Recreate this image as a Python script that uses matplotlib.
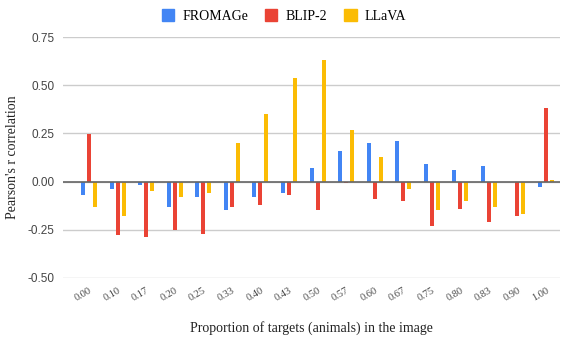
import numpy as np
import matplotlib
matplotlib.use('Agg')
import matplotlib.pyplot as plt
from matplotlib.patches import Patch

# Data
proportions = ['0.00', '0.10', '0.17', '0.20', '0.25', '0.33', '0.40', '0.43', '0.50',
               '0.57', '0.60', '0.67', '0.75', '0.80', '0.83', '0.90', '1.00']
fromage = [-0.07, -0.04, -0.02, -0.13, -0.08, -0.15, -0.08, -0.06, 0.07,
           0.16, 0.20, 0.21, 0.09, 0.06, 0.08, 0.00, -0.03]
blip2 = [0.245, -0.28, -0.29, -0.25, -0.27, -0.13, -0.12, -0.07, -0.15,
         -0.01, -0.09, -0.10, -0.23, -0.14, -0.21, -0.18, 0.38]
llava = [-0.13, -0.18, -0.05, -0.08, -0.06, 0.20, 0.35, 0.54, 0.63,
         0.27, 0.13, -0.04, -0.15, -0.10, -0.13, -0.17, 0.01]

series_names = ['FROMAGe', 'BLIP-2', 'LLaVA']
colors = ['#4285F4', '#EA4335', '#FBBC04']

serif = 'Liberation Serif'
sans = 'Liberation Sans'

fig = plt.figure(figsize=(5.68, 3.38), dpi=100)
ax = fig.add_axes([0.111, 0.178, 0.875, 0.712])

x = np.arange(len(proportions))
width = 0.14
offsets = [-0.21, 0.0, 0.21]
for vals, off, col in zip([fromage, blip2, llava], offsets, colors):
    ax.bar(x + off, vals, width=width, color=col, zorder=3)

ax.set_xlim(-0.91, 16.49)
ax.set_ylim(-0.5, 0.75)
ax.set_yticks([-0.5, -0.25, 0, 0.25, 0.5, 0.75])
ax.set_yticklabels(['-0.50', '-0.25', '0.00', '0.25', '0.50', '0.75'],
                   fontfamily=sans, fontsize=8.5, color='#444444')
ax.yaxis.grid(True, color='#cccccc', linewidth=1, zorder=0)
ax.axhline(0, color='#666666', linewidth=1.2, zorder=4)
ax.tick_params(axis='y', length=0, pad=6)

ax.set_xticks(x)
ax.set_xticklabels(proportions, rotation=30, ha='right', rotation_mode='anchor',
                   fontfamily=serif, fontsize=7.5, color='#444444')
ax.tick_params(axis='x', length=0, pad=6)

for s in ax.spines.values():
    s.set_visible(False)

ax.set_xlabel('Proportion of targets (animals) in the image', fontfamily=serif,
              fontsize=10, color='#222222', labelpad=13)
ax.set_ylabel("Pearson's r correlation", fontfamily=serif, fontsize=10,
              color='#222222', labelpad=6)

handles = [Patch(color=c, label=n) for c, n in zip(colors, series_names)]
fig.legend(handles=handles, loc='upper center', bbox_to_anchor=(0.5, 1.01),
           ncol=3, frameon=False, prop={'family': serif, 'size': 10},
           handlelength=0.9, handleheight=0.9, columnspacing=1.2, handletextpad=0.6)

fig.savefig('out.png', dpi=100)
